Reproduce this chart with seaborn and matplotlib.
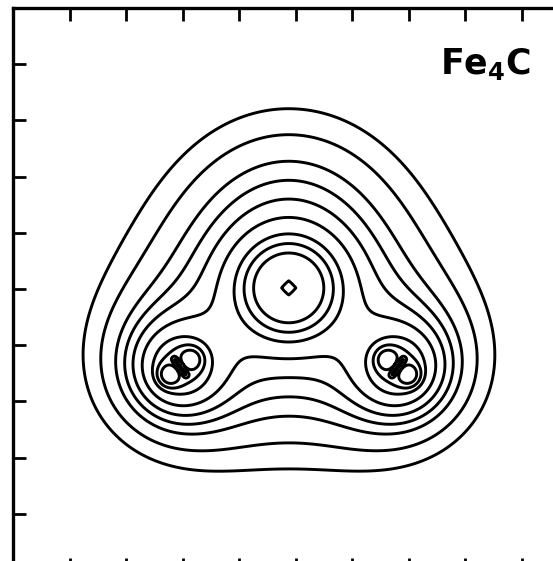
import numpy as np
import matplotlib
matplotlib.use("Agg")
import matplotlib.pyplot as plt
import seaborn as sns

# Atom positions in the plotting plane (frame units 0..10)
fe_xy = np.array([[2.96, 3.61], [6.81, 3.61]])     # two Fe atoms in the plane
c_xy = np.array([4.88, 5.02])                       # central C atom
fe_out_xy = np.array([4.88, 6.40])                  # projection of the two Fe atoms above/below the plane
fe_out_h = 1.94                                     # their distance from the plane

# Radial density parameters (amplitude, decay length)
fe_diffuse = (1.0, 1.5)
fe_valence = (3.0, 0.35)
c_diffuse = (1.5, 0.9)
c_core = (20.0, 0.25)
c_peak = (200.0, 0.05)            # sharp nuclear peak of C
fe_lobe = (2.5, 0.12, 0.23)       # amplitude, width, offset along the Fe-C bond
fe_bar = (40.0, 0.02, 0.19)       # amplitude, width along bond, half length across bond

# Contour levels of the charge density
levels = [0.46, 0.59, 0.75, 0.885, 1.05, 1.30, 1.76, 2.3, 3.25, 30.0]

title = r"Fe$_{\mathbf{4}}$C"


def density(X, Y):
    rho = np.zeros_like(X)
    a_d, l_d = fe_diffuse
    a_v, l_v = fe_valence
    for fx, fy in fe_xy:
        r = np.hypot(X - fx, Y - fy)
        rho += a_d * np.exp(-r / l_d)
        rho += a_v * np.exp(-r / l_v) * (1 - 0.8 * np.exp(-(r / 0.2) ** 2))
        u = c_xy - np.array([fx, fy])
        u = u / np.linalg.norm(u)
        amp, w, off = fe_lobe
        for s in (-1, 1):
            lx, ly = fx + s * off * u[0], fy + s * off * u[1]
            rho += amp * np.exp(-((X - lx) ** 2 + (Y - ly) ** 2) / (2 * w ** 2))
        amp, wu, half = fe_bar
        du = (X - fx) * u[0] + (Y - fy) * u[1]
        dv = -(X - fx) * u[1] + (Y - fy) * u[0]
        rho += amp * np.exp(-du ** 2 / (2 * wu ** 2) - (dv / half) ** 8)
    r3 = np.sqrt((X - fe_out_xy[0]) ** 2 + (Y - fe_out_xy[1]) ** 2 + fe_out_h ** 2)
    rho += 2 * (a_d * np.exp(-r3 / l_d) + a_v * np.exp(-r3 / l_v))
    dx, dy = X - c_xy[0], Y - c_xy[1]
    rc = np.hypot(dx, dy)
    rho += c_diffuse[0] * np.exp(-rc / c_diffuse[1]) + c_core[0] * np.exp(-rc / c_core[1])
    rho += c_peak[0] * np.exp(-(np.abs(dx) + np.abs(dy)) / c_peak[1])
    return rho


sns.set_style("white", {"axes.edgecolor": "black", "xtick.direction": "in",
                        "ytick.direction": "in", "text.color": "black"})

grid = np.linspace(0, 10, 1400)
X, Y = np.meshgrid(grid, grid)
Z = density(X, Y)

fig = plt.figure(figsize=(5.53, 5.61), dpi=100)
ax = fig.add_axes([13 / 553, 1 - 570 / 561, 565 / 553, 562 / 561])
ax.contour(X, Y, Z, levels=levels, colors="black", linewidths=2.1)

ax.set_xlim(0, 10)
ax.set_ylim(0, 10)
ax.set_xticks(np.arange(1, 10))
ax.set_yticks(np.arange(1, 10))
ax.tick_params(axis="both", which="both", direction="in", length=9, width=2,
               color="black", top=True, right=True, bottom=True, left=True,
               labelbottom=False, labelleft=False)
for sp in ax.spines.values():
    sp.set_linewidth(2.4)
    sp.set_color("black")

ax.text(7.55, 8.82, title, fontsize=25, fontweight="bold", ha="left",
        va="baseline", family="DejaVu Sans", color="black")

fig.savefig("out.png", dpi=100)
